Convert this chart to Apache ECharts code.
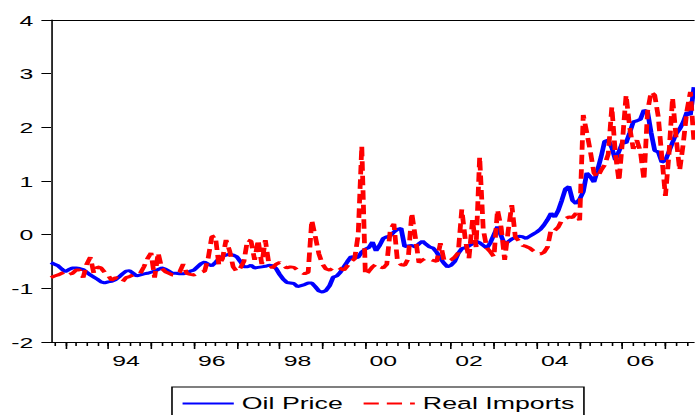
<!DOCTYPE html>
<html><head><meta charset="utf-8">
<script src="https://cdn.jsdelivr.net/npm/echarts@6/dist/echarts.min.js"></script>
<style>
html,body{margin:0;padding:0;background:#fff;overflow:hidden;width:695px;height:415px}
#wrap{width:695px;height:415px;overflow:hidden;position:relative;background:#fff}
#chart{width:434px;height:415px;transform:scaleX(1.6014);transform-origin:0 0;position:absolute;left:0;top:0}
</style></head><body>
<div id="wrap"><div id="chart"></div></div>
<script>
// Monthly observations, 1992M09 .. 2007M09
const startYear = 1992, startMonth = 9, nObs = 181;
const months = [];
for (let k = 0; k < nObs; k++) {
  const m = startMonth - 1 + k;
  months.push((startYear + Math.floor(m / 12)) + '-' + String(m % 12 + 1).padStart(2, '0'));
}
const tickYears = [1994, 1996, 1998, 2000, 2002, 2004, 2006];
const tickLabels = ['94', '96', '98', '00', '02', '04', '06'];
const seriesNames = ['Oil Price', 'Real Imports'];

const oilPrice = [
 -0.52,-0.55,-0.58,-0.64,-0.69,-0.65,-0.62,-0.62,-0.63,-0.65,
 -0.70,-0.75,-0.79,-0.83,-0.88,-0.90,-0.88,-0.87,-0.84,-0.79,
 -0.73,-0.68,-0.67,-0.72,-0.77,-0.75,-0.73,-0.72,-0.70,-0.68,
 -0.65,-0.62,-0.64,-0.68,-0.72,-0.72,-0.73,-0.73,-0.71,-0.68,
 -0.66,-0.60,-0.54,-0.51,-0.55,-0.58,-0.52,-0.45,-0.40,-0.38,
 -0.36,-0.38,-0.41,-0.50,-0.60,-0.60,-0.57,-0.62,-0.61,-0.60,
 -0.59,-0.57,-0.58,-0.63,-0.74,-0.83,-0.89,-0.90,-0.91,-0.97,
 -0.95,-0.93,-0.90,-0.90,-0.97,-1.05,-1.07,-1.04,-0.95,-0.79,
 -0.77,-0.70,-0.60,-0.50,-0.41,-0.43,-0.42,-0.32,-0.27,-0.24,
 -0.14,-0.30,-0.20,-0.07,-0.04,-0.02,0.05,0.10,0.12,-0.22,
 -0.21,-0.20,-0.23,-0.17,-0.12,-0.18,-0.23,-0.25,-0.33,-0.44,
 -0.53,-0.60,-0.57,-0.50,-0.35,-0.26,-0.24,-0.21,-0.17,-0.12,
 -0.15,-0.20,-0.25,-0.15,0.00,0.15,-0.02,-0.18,-0.13,-0.08,
 -0.05,-0.03,-0.04,-0.07,-0.03,0.01,0.05,0.10,0.18,0.28,
 0.40,0.33,0.45,0.64,0.85,0.90,0.64,0.58,0.66,0.80,
 1.15,1.08,0.98,1.20,1.45,1.74,1.76,1.62,1.39,1.55,
 1.72,1.71,1.90,2.10,2.12,2.15,2.32,2.29,1.90,1.57,
 1.54,1.35,1.38,1.55,1.72,1.88,1.97,2.10,2.28,2.23,2.75
];

const realImports = [
 -0.80,-0.77,-0.75,-0.72,-0.69,-0.74,-0.72,-0.66,-0.66,-0.80,
 -0.55,-0.42,-0.72,-0.60,-0.62,-0.70,-0.76,-0.85,-0.80,-0.82,
 -0.88,-0.80,-0.78,-0.75,-0.74,-0.72,-0.60,-0.45,-0.34,-0.80,
 -0.34,-0.63,-0.69,-0.72,-0.75,-0.75,-0.70,-0.55,-0.72,-0.74,
 -0.75,-0.72,-0.70,-0.68,-0.44,-0.04,-0.02,-0.57,-0.45,-0.10,
 -0.30,-0.60,-0.69,-0.62,-0.50,-0.10,-0.12,-0.47,-0.10,-0.55,
 -0.10,-0.55,-0.62,-0.55,-0.52,-0.57,-0.62,-0.60,-0.61,-0.66,
 -0.70,-0.73,-0.70,0.27,-0.04,-0.36,-0.55,-0.64,-0.66,-0.62,
 -0.60,-0.63,-0.66,-0.58,-0.50,-0.45,0.00,1.65,-0.75,-0.68,
 -0.60,-0.55,-0.60,-0.62,-0.55,0.10,0.20,-0.50,-0.56,-0.57,
 -0.45,0.40,-0.05,-0.52,-0.47,-0.44,-0.46,-0.48,-0.50,-0.16,
 -0.47,-0.50,-0.47,-0.42,-0.34,0.47,-0.10,-0.44,0.27,-0.23,
 1.45,0.10,-0.25,-0.32,-0.41,0.46,0.14,-0.47,0.08,0.55,
 -0.05,-0.12,-0.20,-0.22,-0.25,-0.30,-0.34,-0.36,-0.33,-0.23,
 0.10,0.08,0.14,0.27,0.30,0.33,0.32,0.40,0.27,2.23,
 1.90,1.55,1.15,1.07,1.20,1.30,1.50,2.38,1.50,1.00,
 1.76,2.60,2.00,1.60,1.76,1.55,1.02,2.30,2.66,2.60,
 2.20,1.45,0.72,1.50,2.55,1.80,1.20,1.70,2.30,2.66,1.73
];

const FONT = "'Liberation Sans', Arial, Helvetica, sans-serif";
const yearOf = v => +v.slice(0, 4);
const monthOf = v => +v.slice(5, 7);

const chart = echarts.init(document.getElementById('chart'), null, { renderer: 'svg' });
chart.setOption({
  animation: false,
  backgroundColor: '#fff',
  grid: { left: 31.85, right: 0.64, top: 20, bottom: 73, containLabel: false },
  legend: {
    show: true,
    left: 107.4, top: 387,
    orient: 'horizontal',
    itemWidth: 32, itemHeight: 14, itemGap: 12,
    padding: [8, 6, 8, 5.6],
    borderColor: '#000', borderWidth: 1, borderRadius: 0,
    backgroundColor: '#fff',
    itemStyle: { opacity: 0, borderWidth: 0 },
    textStyle: { fontSize: 16.7, color: '#000', fontFamily: FONT },
    data: seriesNames
  },
  xAxis: [
    {
      type: 'category', data: months, boundaryGap: false, position: 'bottom',
      axisLine: { show: true, onZero: false, lineStyle: { color: '#000', width: 1 } },
      axisTick: {
        show: true, inside: false, length: 4,
        interval: (i, v) => (monthOf(v) - 1) % 3 === 0,
        lineStyle: { color: '#000', width: 1 }
      },
      axisLabel: {
        show: true, margin: 10, fontSize: 15.5, color: '#000', fontFamily: FONT,
        interval: (i, v) => monthOf(v) === 6 && tickYears.indexOf(yearOf(v)) >= 0,
        formatter: v => { const k = tickYears.indexOf(yearOf(v)); return k >= 0 ? tickLabels[k] : ''; }
      },
      splitLine: { show: false }
    },
    {
      type: 'category', data: months, boundaryGap: false, position: 'bottom',
      axisLine: { show: false, onZero: false },
      axisTick: {
        show: true, inside: false, length: 7,
        interval: (i, v) => monthOf(v) === 1,
        lineStyle: { color: '#000', width: 1 }
      },
      axisLabel: { show: false },
      splitLine: { show: false }
    },
    {
      type: 'category', data: months, boundaryGap: false, position: 'top',
      axisLine: { show: true, onZero: false, lineStyle: { color: '#000', width: 1 } },
      axisTick: { show: false },
      axisLabel: { show: false },
      splitLine: { show: false }
    }
  ],
  yAxis: {
    type: 'value', min: -2, max: 4, interval: 1, position: 'left',
    axisLine: { show: true, onZero: false, lineStyle: { color: '#000', width: 1 } },
    axisTick: { show: true, inside: false, length: 6, lineStyle: { color: '#000', width: 1 } },
    axisLabel: { show: true, margin: 11, fontSize: 15.5, color: '#000', fontFamily: FONT },
    splitLine: { show: false }
  },
  series: [
    {
      name: seriesNames[0], type: 'line', data: oilPrice, xAxisIndex: 0, yAxisIndex: 0,
      symbol: 'none', showSymbol: false, smooth: false,
      lineStyle: { color: '#0000ff', width: 3, type: 'solid' },
      itemStyle: { color: '#0000ff' }, z: 2
    },
    {
      name: seriesNames[1], type: 'line', data: realImports, xAxisIndex: 0, yAxisIndex: 0,
      symbol: 'none', showSymbol: false, smooth: false,
      lineStyle: { color: '#ff0000', width: 3, type: [9.5, 5] },
      itemStyle: { color: '#ff0000' }, z: 3
    }
  ]
});
</script>
</body></html>
